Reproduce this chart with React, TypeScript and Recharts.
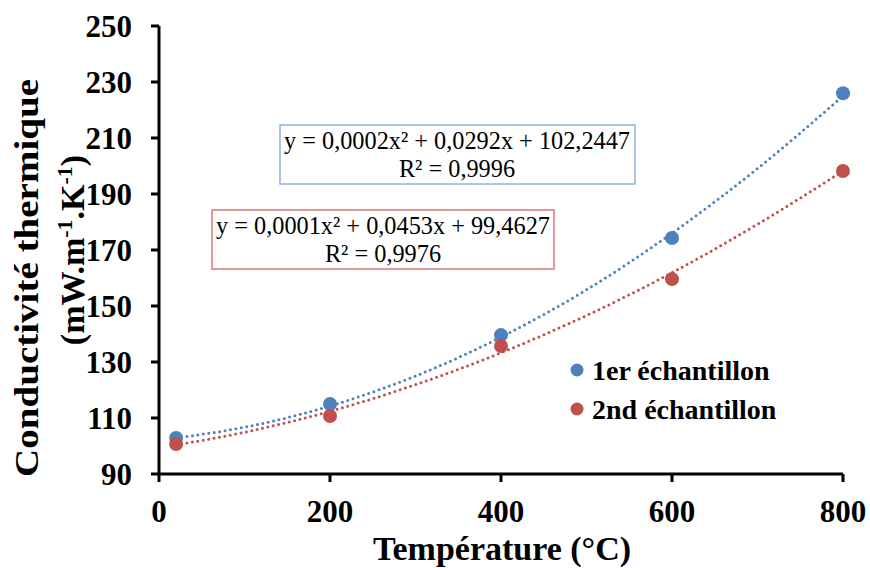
import { ComposedChart, Line, Scatter, XAxis, YAxis } from 'recharts'

// measured points
const TEMPS = [20, 200, 400, 600, 800]
const SAMPLE_1 = [102.9, 115, 139.6, 174.3, 226]
const SAMPLE_2 = [100.7, 110.7, 135.7, 159.6, 198.2]

// dotted trend curves
const TREND_X = [20, 100, 200, 300, 400, 500, 600, 700, 800]
const TREND_1 = [102.9, 106.7, 114.3, 125.0, 138.9, 155.8, 176.0, 199.1, 225.0]
const TREND_2 = [100.4, 104.9, 112.4, 121.9, 133.3, 146.6, 161.9, 179.2, 198.2]

const X_TICKS = [0, 200, 400, 600, 800]
const Y_TICKS = [90, 110, 130, 150, 170, 190, 210, 230, 250]

const BLUE = '#4F81BD'
const RED = '#C0504D'
const FONT = '"Liberation Serif", "Times New Roman", serif'

const toPoints = (xs: number[], ys: number[]) => xs.map((x, i) => ({ x, y: ys[i] }))

const pts1 = toPoints(TEMPS, SAMPLE_1)
const pts2 = toPoints(TEMPS, SAMPLE_2)
const trend1 = toPoints(TREND_X, TREND_1)
const trend2 = toPoints(TREND_X, TREND_2)

const dotShape = (color: string) => (p: any) => <circle cx={p.cx} cy={p.cy} r={7} fill={color} />

const tickStyle = { fill: '#000', fontSize: 31, fontWeight: 700, fontFamily: FONT }

export default function App() {
  return (
    <div style={{ position: 'absolute', left: 0, top: 0, width: 870, height: 568, background: '#fff' }}>
      <ComposedChart width={870} height={568} margin={{ top: 26, right: 27, bottom: 0, left: 0 }}>
        <XAxis
          dataKey="x"
          type="number"
          domain={[0, 800]}
          ticks={X_TICKS}
          height={94}
          axisLine={{ stroke: '#000', strokeWidth: 3 }}
          tickLine={{ stroke: '#000', strokeWidth: 3 }}
          tickSize={8}
          tickMargin={18}
          tick={tickStyle}
        />
        <YAxis
          type="number"
          domain={[90, 250]}
          ticks={Y_TICKS}
          width={159}
          axisLine={{ stroke: '#000', strokeWidth: 3 }}
          tickLine={{ stroke: '#000', strokeWidth: 3 }}
          tickSize={8}
          tickMargin={19}
          tick={tickStyle}
        />
        <Line
          data={trend1}
          dataKey="y"
          type="monotone"
          stroke={BLUE}
          strokeWidth={3}
          strokeDasharray="0 5.5"
          strokeLinecap="round"
          dot={false}
          isAnimationActive={false}
        />
        <Line
          data={trend2}
          dataKey="y"
          type="monotone"
          stroke={RED}
          strokeWidth={3}
          strokeDasharray="0 5.5"
          strokeLinecap="round"
          dot={false}
          isAnimationActive={false}
        />
        <Scatter data={pts1} dataKey="y" shape={dotShape(BLUE)} isAnimationActive={false} />
        <Scatter data={pts2} dataKey="y" shape={dotShape(RED)} isAnimationActive={false} />
      </ComposedChart>

      <svg
        width={870}
        height={568}
        style={{ position: 'absolute', left: 0, top: 0, pointerEvents: 'none' }}
        fontFamily={FONT}
      >
        {/* axis titles */}
        <text x={502} y={560} textAnchor="middle" fontSize={34} fontWeight={700}>
          Température (°C)
        </text>
        <text
          transform="translate(38, 278) rotate(-90)"
          textAnchor="middle"
          fontSize={34}
          fontWeight={700}
          textLength={398}
          lengthAdjust="spacingAndGlyphs"
        >
          Conductivité thermique
        </text>
        <text transform="translate(84, 250) rotate(-90)" textAnchor="middle" fontSize={34} fontWeight={700}>
          (mW.m
          <tspan fontSize={22} dy={-12}>-1</tspan>
          <tspan dy={12}>.K</tspan>
          <tspan fontSize={22} dy={-12}>-1</tspan>
          <tspan dy={12}>)</tspan>
        </text>

        {/* trendline labels */}
        <rect x={280} y={125} width={355} height={59} fill="#fff" stroke="#8EB4E3" strokeWidth={1.5} />
        <text x={457} y={149} textAnchor="middle" fontSize={24.3}>
          y = 0,0002x² + 0,0292x + 102,2447
        </text>
        <text x={457} y={177} textAnchor="middle" fontSize={24.3}>
          R² = 0,9996
        </text>
        <rect x={212} y={210} width={342} height={59} fill="#fff" stroke="#D9787A" strokeWidth={1.5} />
        <text x={383} y={234} textAnchor="middle" fontSize={24.3}>
          y = 0,0001x² + 0,0453x + 99,4627
        </text>
        <text x={383} y={262} textAnchor="middle" fontSize={24.3}>
          R² = 0,9976
        </text>

        {/* legend */}
        <circle cx={577} cy={370} r={6.5} fill={BLUE} />
        <text x={592} y={380} fontSize={28} fontWeight={700}>
          1er échantillon
        </text>
        <circle cx={577} cy={409} r={6.5} fill={RED} />
        <text x={592} y={419} fontSize={28} fontWeight={700}>
          2nd échantillon
        </text>
      </svg>
    </div>
  )
}
